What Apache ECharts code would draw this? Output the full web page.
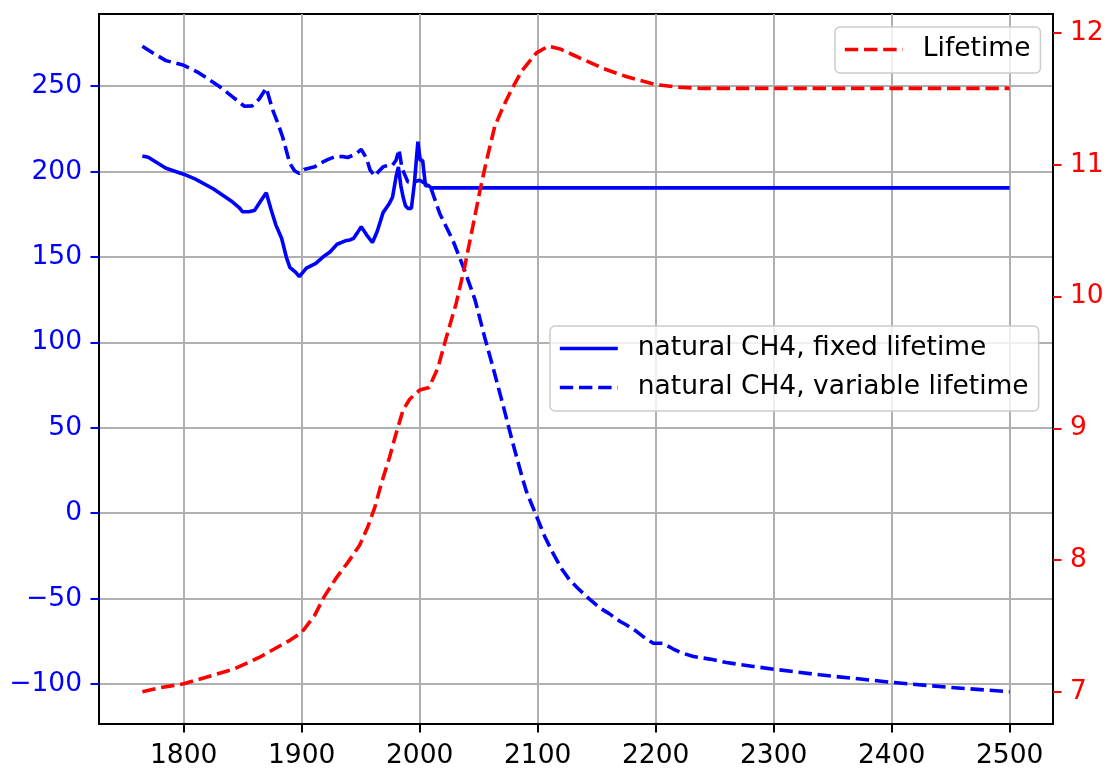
<!DOCTYPE html>
<html>
<head>
<meta charset="utf-8">
<script src="https://cdn.jsdelivr.net/npm/echarts@6/dist/echarts.min.js"></script>
<style>
  html, body { margin: 0; padding: 0; background: #fff; }
  #chart { width: 1113px; height: 776px; }
</style>
</head>
<body>
<div id="chart"></div>
<script>
// natural CH4, fixed lifetime
var fixedYears = [1765, 1770, 1785, 1800, 1810, 1825, 1840, 1847, 1850, 1855, 1860, 1865, 1870, 1874, 1878, 1883, 1887, 1890, 1895, 1898,
  1901, 1904, 1912, 1918, 1924, 1930, 1937, 1941, 1944, 1947, 1950.5, 1955, 1960, 1964, 1969, 1974, 1977, 1980, 1982, 1984,
  1986, 1988, 1990, 1993, 1995.5, 1998.5, 2000.5, 2002.5, 2005, 2007, 2010, 2500];
var fixedValues = [209.2, 208.4, 202, 198.5, 195.6, 190, 183, 179, 176.5, 176.5, 177.3, 182.5, 187.6, 178, 169, 161, 150, 144, 141, 138.5,
  141, 143.5, 146.3, 150, 153, 157.5, 159.5, 160, 161, 164, 167.7, 163, 158.5, 165, 176, 181, 185, 197, 202.8, 192,
  185, 180, 178.5, 178.5, 193, 217.5, 206.5, 206.7, 191.5, 192, 190.5, 190.5];

// natural CH4, variable lifetime
var varYears = [1765, 1775, 1785, 1800, 1813, 1830, 1842, 1851.5, 1858, 1864, 1870, 1875.5, 1880, 1884, 1890, 1894, 1898, 1902, 1911, 1916,
  1922, 1929, 1935, 1939, 1943.5, 1947, 1950.5, 1955, 1958, 1962, 1965, 1969, 1974, 1977, 1980, 1982.5, 1985, 1990, 1995, 2000,
  2005, 2010, 2017, 2028, 2038, 2047, 2055, 2062, 2071, 2079, 2087.5, 2090.5, 2098, 2106, 2113, 2120, 2127, 2134, 2143, 2153,
  2160, 2170, 2175, 2184, 2191, 2198, 2206, 2215, 2221, 2232, 2246, 2260, 2283, 2300, 2339, 2400, 2450, 2500];
var varValues = [273.4, 269, 265, 262.3, 257.8, 250, 243.5, 238.3, 238.5, 242.5, 249, 236, 228, 220, 204.8, 200.5, 198.9, 201.3, 202.8, 205,
  207, 209, 208.8, 208.3, 209.6, 211, 213, 207.7, 201, 197.4, 200, 202.8, 204, 203.8, 206.7, 213, 202, 194, 194, 195,
  193, 189.5, 175.5, 160, 142.4, 124.8, 103.3, 85.8, 62.4, 40.9, 19.5, 12.7, 0, -13.6, -23.4, -32.2, -39, -43.9, -49.7, -55.6,
  -58.5, -63.4, -65.3, -69.3, -73.1, -76.1, -76.1, -79.5, -81.5, -83.9, -85.4, -87.4, -89.7, -91.3, -94.6, -99, -102, -104.5];

// Lifetime (right axis)
var lifeYears = [1765, 1780, 1800, 1819, 1842, 1864, 1884, 1890, 1900, 1911, 1919, 1929, 1939, 1949, 1956, 1962, 1967.5, 1974.5, 1980, 1986,
  1991.5, 2000, 2008, 2015.5, 2022.6, 2031, 2038, 2045, 2051, 2056.6, 2063.6, 2070.7, 2077.8, 2086.3, 2099, 2109, 2119, 2136, 2156, 2175,
  2200, 2218, 2240, 2300, 2400, 2500];
var lifeValues = [7.0, 7.03, 7.06, 7.11, 7.17, 7.26, 7.36, 7.39, 7.45, 7.58, 7.72, 7.86, 7.98, 8.11, 8.25, 8.40, 8.58, 8.78, 8.96, 9.14,
  9.22, 9.29, 9.31, 9.46, 9.69, 9.95, 10.22, 10.53, 10.8, 11.03, 11.29, 11.44, 11.57, 11.71, 11.85, 11.90, 11.88, 11.81, 11.73, 11.67,
  11.61, 11.59, 11.58, 11.58, 11.58, 11.58];

// tick labels
var xTicks = [1800, 1900, 2000, 2100, 2200, 2300, 2400, 2500];
var leftTicks = [-100, -50, 0, 50, 100, 150, 200, 250];
var rightTicks = [7, 8, 9, 10, 11, 12];

function pairs(xs, ys) {
  return xs.map(function (x, i) { return [x, ys[i]]; });
}
function minusFmt(v) {
  return v < 0 ? '\u2212' + Math.abs(v) : String(v);
}

var chart = echarts.init(document.getElementById('chart'));
var font = 'DejaVu Sans';
var fs = 26.5;
var lw = 3.6;
var dash = [13.4, 5.8];
var legendBase = {
  orient: 'vertical',
  backgroundColor: 'rgba(255,255,255,0.8)',
  borderColor: '#cccccc',
  borderWidth: 1.5,
  borderRadius: 5,
  padding: [9, 10, 10, 8],
  itemWidth: 58,
  itemHeight: 14,
  itemGap: 12,
  itemStyle: { opacity: 0 },
  lineStyle: { width: lw },
  textStyle: { fontSize: fs, color: '#000', fontFamily: font, padding: [0, 0, 0, 15] }
};

var option = {
  animation: false,
  grid: {
    left: 99, top: 14, right: 60, bottom: 52,
    show: true, borderColor: '#000', borderWidth: 2
  },
  legend: [
    Object.assign({}, legendBase, { data: ['Lifetime'], left: 835, top: 27 }),
    Object.assign({}, legendBase, { data: ['natural CH4, fixed lifetime', 'natural CH4, variable lifetime'], left: 550, top: 326 })
  ],
  xAxis: {
    type: 'value',
    min: 1728.25,
    max: 2536.75,
    splitNumber: 8,
    axisLine: { onZero: false, lineStyle: { color: '#000', width: 2 } },
    axisTick: { length: 8.5, customValues: xTicks, lineStyle: { color: '#000', width: 2 } },
    axisLabel: {
      customValues: xTicks, margin: 19, fontSize: fs, color: '#000', fontFamily: font,
      formatter: function (v) { return String(v); }
    },
    splitLine: { show: true, lineStyle: { color: '#b0b0b0', width: 2 } }
  },
  yAxis: [
    {
      type: 'value',
      min: -123.4,
      max: 292.3,
      splitNumber: 8,
      axisLine: { show: true, onZero: false, lineStyle: { color: '#000', width: 2 } },
      axisTick: { show: true, length: 8.5, customValues: leftTicks, lineStyle: { color: '#0000ff', width: 2 } },
      axisLabel: {
        customValues: leftTicks, margin: 17, fontSize: fs, color: '#0000ff', fontFamily: font,
        formatter: minusFmt
      },
      splitLine: { show: true, lineStyle: { color: '#b0b0b0', width: 2 } }
    },
    {
      type: 'value',
      position: 'right',
      min: 6.755,
      max: 12.145,
      splitNumber: 5,
      axisLine: { show: true, onZero: false, lineStyle: { color: '#000', width: 2 } },
      axisTick: { show: true, length: 8.5, customValues: rightTicks, lineStyle: { color: '#ff0000', width: 2 } },
      axisLabel: {
        customValues: rightTicks, margin: 17, fontSize: fs, color: '#ff0000', fontFamily: font
      },
      splitLine: { show: false }
    }
  ],
  series: [
    {
      name: 'natural CH4, fixed lifetime',
      type: 'line',
      data: pairs(fixedYears, fixedValues),
      symbol: 'none',
      color: '#0000ff',
      lineStyle: { color: '#0000ff', width: lw }
    },
    {
      name: 'natural CH4, variable lifetime',
      type: 'line',
      data: pairs(varYears, varValues),
      symbol: 'none',
      color: '#0000ff',
      lineStyle: { color: '#0000ff', width: lw, type: dash }
    },
    {
      name: 'Lifetime',
      type: 'line',
      yAxisIndex: 1,
      data: pairs(lifeYears, lifeValues),
      symbol: 'none',
      color: '#ff0000',
      lineStyle: { color: '#ff0000', width: lw, type: dash }
    }
  ]
};

chart.setOption(option);
</script>
</body>
</html>
